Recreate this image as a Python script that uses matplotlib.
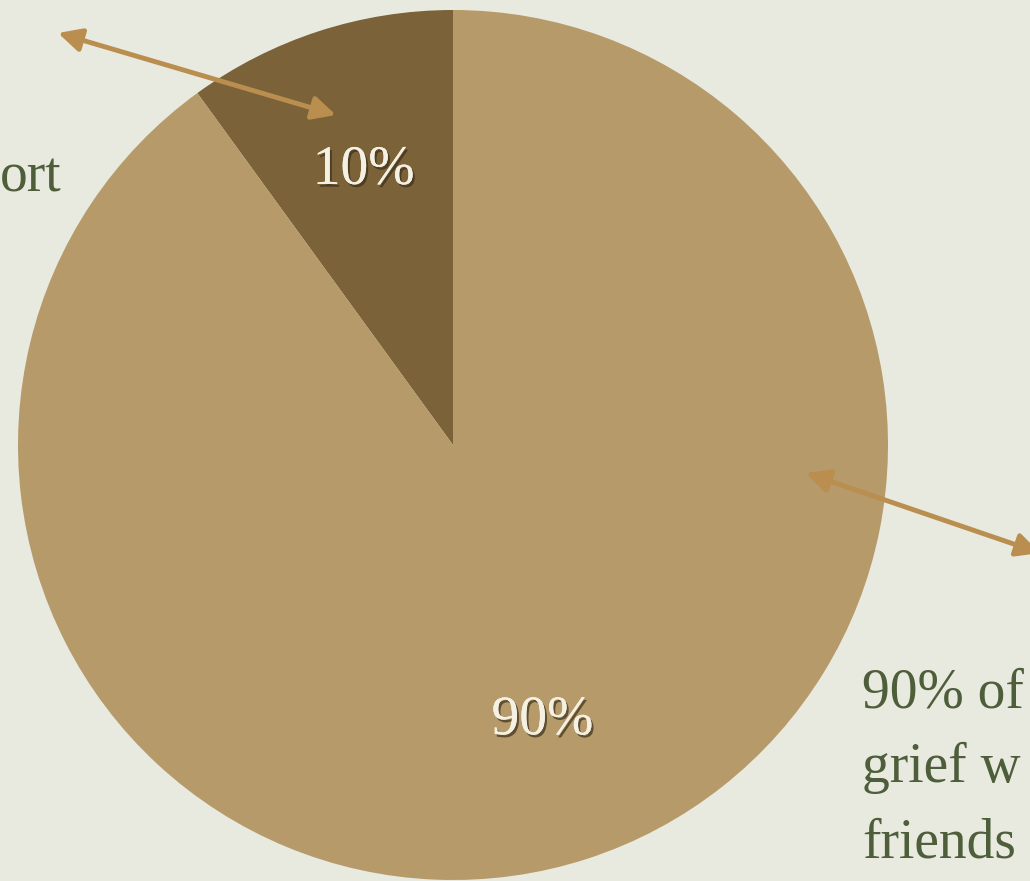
import matplotlib
matplotlib.use("Agg")
import matplotlib.pyplot as plt
import matplotlib.patheffects as pe

# Data
categories = ["Other", "Friends & family"]
values = [10, 90]
slice_colors = ["#7B6239", "#B69A69"]

left_text = "ort"
right_lines = ["90% of", "grief w", "friends"]

W, H = 1030, 881
fig = plt.figure(figsize=(W / 100, H / 100), dpi=100)
fig.patch.set_facecolor("#E8EADF")
ax = fig.add_axes([0, 0, 1, 1])
ax.set_facecolor("#E8EADF")

wedges, texts, autotexts = ax.pie(
    values,
    colors=slice_colors,
    startangle=-90,
    counterclock=False,
    center=(453, 445),
    radius=435,
    autopct="%d%%",
    pctdistance=0.665,
    frame=True,
    wedgeprops=dict(linewidth=0),
    textprops=dict(color="#F4F1E2", fontsize=40, family="Liberation Serif"),
)
for t in autotexts:
    t.set_path_effects([pe.withSimplePatchShadow(offset=(1.5, -2), shadow_rgbFace="#3a2e1a", alpha=0.7),
                        pe.Normal()])

ax.set_xlim(0, W)
ax.set_ylim(H, 0)
ax.set_aspect("equal")
ax.axis("off")

# annotation texts
txt_color = "#4E5D3A"
ax.text(62, 191, left_text, ha="right", va="baseline", fontsize=40,
        color=txt_color, family="Liberation Serif")
for i, line in enumerate(right_lines):
    ax.text(862, 707 + 75 * i, line, ha="left", va="baseline", fontsize=40,
            color=txt_color, family="Liberation Serif")

arrow_color = "#B98E4F"
ax.annotate("", xy=(58, 33), xytext=(336, 115),
            arrowprops=dict(arrowstyle="<|-|>,head_length=1.4,head_width=0.7",
                            color=arrow_color, lw=3.5, shrinkA=0, shrinkB=0))
ax.annotate("", xy=(806, 473), xytext=(1040, 553),
            arrowprops=dict(arrowstyle="<|-|>,head_length=1.4,head_width=0.7",
                            color=arrow_color, lw=3.5, shrinkA=0, shrinkB=0))

fig.savefig("out.png", dpi=100, facecolor=fig.get_facecolor())
